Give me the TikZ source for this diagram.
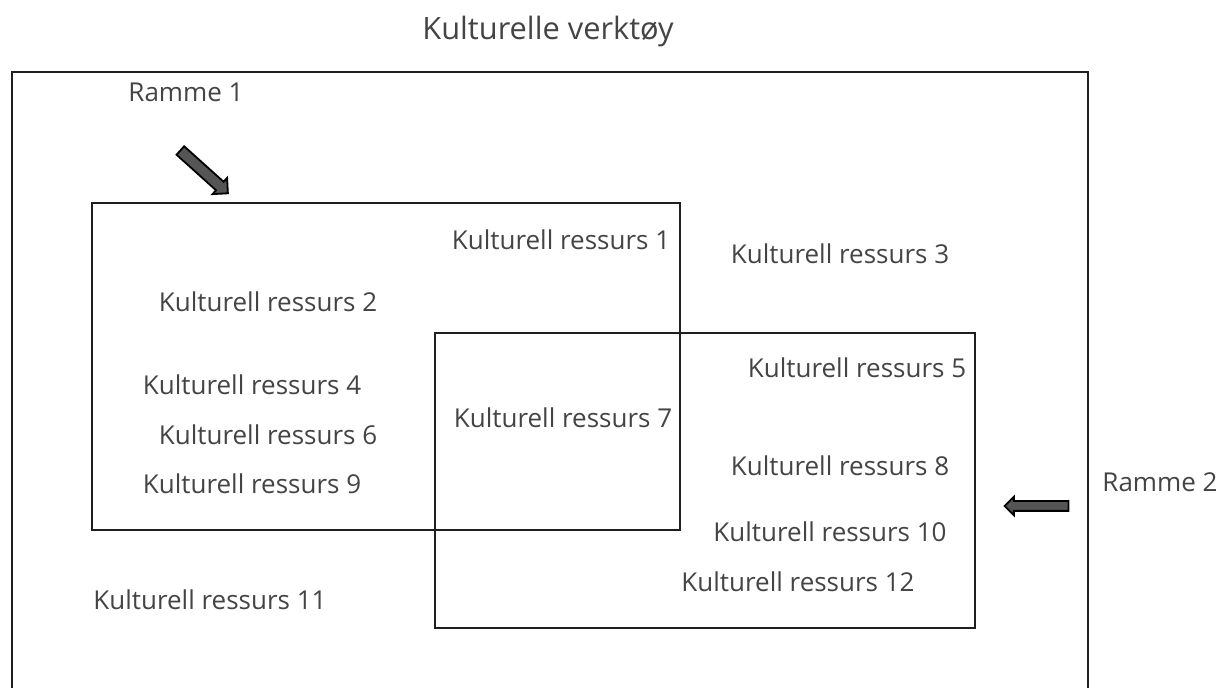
\documentclass[tikz,border=0pt]{standalone}
\usepackage{fontspec}
\setmainfont{Open Sans}
\usetikzlibrary{shapes.arrows}
\definecolor{cTxt}{HTML}{444444}
\definecolor{cLine}{HTML}{1F1F1F}
\definecolor{cPtr}{HTML}{555555}
\tikzset{
  frame/.style ={draw=cLine,line width=1.2pt},
  res/.style   ={font=\fontsize{13}{15}\selectfont,text=cTxt,inner sep=0pt},
  ttl/.style   ={font=\fontsize{15.4}{18}\selectfont,text=cTxt,inner sep=0pt},
  ptr/.style   ={single arrow,draw=black,fill=cPtr,line width=0.9pt,inner sep=2.4pt,
                 minimum width=0pt,single arrow head extend=2.6pt,
                 single arrow head indent=0pt,minimum height=32pt},
}

\begin{document}
\begin{tikzpicture}[x=0.5pt, y=-0.5pt]

\useasboundingbox (0,0) rectangle (1224,688);

% --- outer frame, its bottom edge runs off the page -----------------------
\draw[frame] (12,720) |- (1088,72) -- (1088,720);
\node[ttl] (title) at (548,32) {Kulturelle verktøy};

% --- the two overlapping frames --------------------------------------------
\draw[frame] (92,203) rectangle (680,530);
\draw[frame] (435,333) rectangle (975,628);

\node[res] (r1)  at (561,240) {Kulturell ressurs 1};
\node[res] (r2)  at (268,302) {Kulturell ressurs 2};
\node[res] (r3)  at (840,254) {Kulturell ressurs 3};
\node[res] (r4)  at (252,385) {Kulturell ressurs 4};
\node[res] (r5)  at (857,368) {Kulturell ressurs 5};
\node[res] (r6)  at (268,435) {Kulturell ressurs 6};
\node[res] (r7)  at (563,418) {Kulturell ressurs 7};
\node[res] (r8)  at (840,466) {Kulturell ressurs 8};
\node[res] (r9)  at (252,484) {Kulturell ressurs 9};
\node[res] (r10) at (830,532) {Kulturell ressurs 10};
\node[res] (r11) at (210,600) {Kulturell ressurs 11};
\node[res] (r12) at (798,582) {Kulturell ressurs 12};

% --- pointers to the frames ---------------------------------------------------
\node[res] (ra1) at (186,92)   {Ramme 1};
\node[res] (ra2) at (1160,482) {Ramme 2};
\node[ptr,rotate=-42] (p1) at (202,170) {};
\node[ptr,rotate=180,inner sep=2pt,single arrow head extend=2.2pt] (p2) at (1039,506) {};

\end{tikzpicture}
\end{document}
